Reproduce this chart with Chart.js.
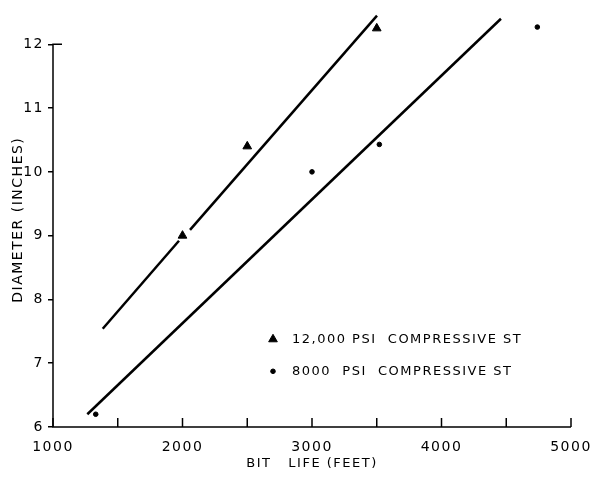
<!DOCTYPE html>
<html>
<head>
<meta charset="utf-8">
<script src="https://cdn.jsdelivr.net/npm/chart.js@4/dist/chart.umd.min.js"></script>
<style>
  body { margin: 0; background: #fff; }
  #wrap { width: 596px; height: 478px; }
</style>
</head>
<body>
<div id="wrap"><canvas id="myChart" width="596" height="478"></canvas></div>
<script>
// values
var triLife = [2000, 2500, 3500];
var triDia = [9.0, 10.4, 12.25];
var dotLife = [1330, 3000, 3520, 4740];
var dotDia = [6.2, 10.0, 10.43, 12.27];
// fitted lines (line A is broken around the 2000 ft triangle)
var lineALife = [1384, 1973, 2058, 3502];
var lineADia = [7.54, 8.92, 9.09, 12.45];
var lineBLife = [1265, 4459];
var lineBDia = [6.2, 12.4];
var xTicks = [1000, 2000, 3000, 4000, 5000];
var yTop = 12;   // the drawn axis stops at 12 in.
var legendText = ["12,000 PSI  COMPRESSIVE ST", "8000  PSI  COMPRESSIVE ST"];

function pts(xs, ys) {
    var out = [];
    for (var i = 0; i < xs.length; i++) out.push({x: xs[i], y: ys[i]});
    return out;
}

var spacing = {
    id: "spacing",
    beforeInit: function(chart) { chart.ctx.letterSpacing = "1.5px"; },
    beforeDraw: function(chart) { chart.ctx.letterSpacing = "1.5px"; }
};

// axis lines and small inner ticks
var axesDraw = {
    id: "axesDraw",
    afterDraw: function(chart) {
        var ctx = chart.ctx, xs = chart.scales.x, ys = chart.scales.y, area = chart.chartArea;
        var top = ys.getPixelForValue(yTop);
        ctx.save();
        ctx.strokeStyle = "#000";
        ctx.lineWidth = 1.5;
        ctx.beginPath();
        ctx.moveTo(area.left + 9, top);
        ctx.lineTo(area.left, top);
        ctx.lineTo(area.left, area.bottom);
        ctx.lineTo(area.right, area.bottom);
        ctx.stroke();
        xs.ticks.forEach(function(t) {
            var px = xs.getPixelForValue(t.value);
            ctx.beginPath();
            ctx.moveTo(px, area.bottom);
            ctx.lineTo(px, area.bottom - 9);
            ctx.stroke();
        });
        ctx.restore();
    }
};

var legendBox = {
    id: "legendBox",
    afterDraw: function(chart) {
        var ctx = chart.ctx, area = chart.chartArea;
        var top = chart.scales.y.getPixelForValue(yTop);
        var mx = area.left + 220, tx = area.left + 239;
        var rows = [top + 295, top + 327];
        var styles = [{s: "triangle", r: 5}, {s: "circle", r: 2.3}];
        ctx.save();
        ctx.fillStyle = "#000";
        ctx.strokeStyle = "#000";
        ctx.font = "13px 'DejaVu Sans'";
        ctx.textBaseline = "middle";
        ctx.letterSpacing = "1.5px";
        for (var i = 0; i < rows.length; i++) {
            Chart.helpers.drawPoint(ctx, {pointStyle: styles[i].s, radius: styles[i].r, borderWidth: 1}, mx, rows[i]);
            ctx.fillStyle = "#000";
            ctx.fillText(legendText[i], tx, rows[i]);
        }
        ctx.restore();
    }
};

new Chart("myChart", {
    type: "scatter",
    data: {
        datasets: [{
            label: "line A",
            type: "line",
            data: pts(lineALife, lineADia),
            borderColor: "#000",
            borderWidth: 2.5,
            pointRadius: 0,
            segment: {
                borderColor: function(c) { return c.p0DataIndex === 1 ? "rgba(0,0,0,0)" : "#000"; }
            }
        }, {
            label: "line B",
            type: "line",
            data: pts(lineBLife, lineBDia),
            borderColor: "#000",
            borderWidth: 2.5,
            pointRadius: 0
        }, {
            label: "12,000 PSI",
            data: pts(triLife, triDia),
            pointStyle: "triangle",
            pointRadius: 5,
            backgroundColor: "#000",
            borderColor: "#000"
        }, {
            label: "8000 PSI",
            data: pts(dotLife, dotDia),
            pointStyle: "circle",
            pointRadius: 2.3,
            backgroundColor: "#000",
            borderColor: "#000"
        }]
    },
    options: {
        responsive: false,
        animation: false,
        events: [],
        layout: { padding: { top: 11, right: 25, left: 0, bottom: 0 } },
        plugins: {
            legend: { display: false },
            tooltip: { enabled: false }
        },
        scales: {
            x: {
                type: "linear",
                min: 1000,
                max: 5000,
                afterFit: function(s) { s.height = 51; s.paddingRight = 0; },
                border: { display: false },
                grid: { drawOnChartArea: false, drawTicks: false },
                ticks: {
                    stepSize: 500,
                    color: "#000",
                    padding: 12,
                    maxRotation: 0,
                    autoSkip: false,
                    font: { family: "DejaVu Sans", size: 14 },
                    callback: function(v) { return xTicks.indexOf(v) >= 0 ? String(v) : ""; }
                },
                title: {
                    display: true,
                    text: "BIT   LIFE (FEET)",
                    color: "#000",
                    font: { family: "DejaVu Sans", size: 13 },
                    padding: { top: 0, bottom: 7 }
                }
            },
            y: {
                type: "linear",
                min: 6,
                max: 12.5,
                afterFit: function(s) { s.width = 53; },
                afterBuildTicks: function(s) {
                    s.ticks = s.ticks.filter(function(t) { return t.value <= yTop; });
                },
                border: { display: false },
                grid: { drawOnChartArea: false, drawTicks: true, tickLength: 5, color: "#000", lineWidth: 1.5 },
                ticks: {
                    stepSize: 1,
                    color: "#000",
                    padding: 4,
                    font: { family: "DejaVu Sans", size: 14 }
                },
                title: {
                    display: true,
                    text: "DIAMETER (INCHES)",
                    color: "#000",
                    font: { family: "DejaVu Sans", size: 14 },
                    padding: { top: 10, bottom: 4 }
                }
            }
        }
    },
    plugins: [spacing, axesDraw, legendBox]
});
</script>
</body>
</html>
